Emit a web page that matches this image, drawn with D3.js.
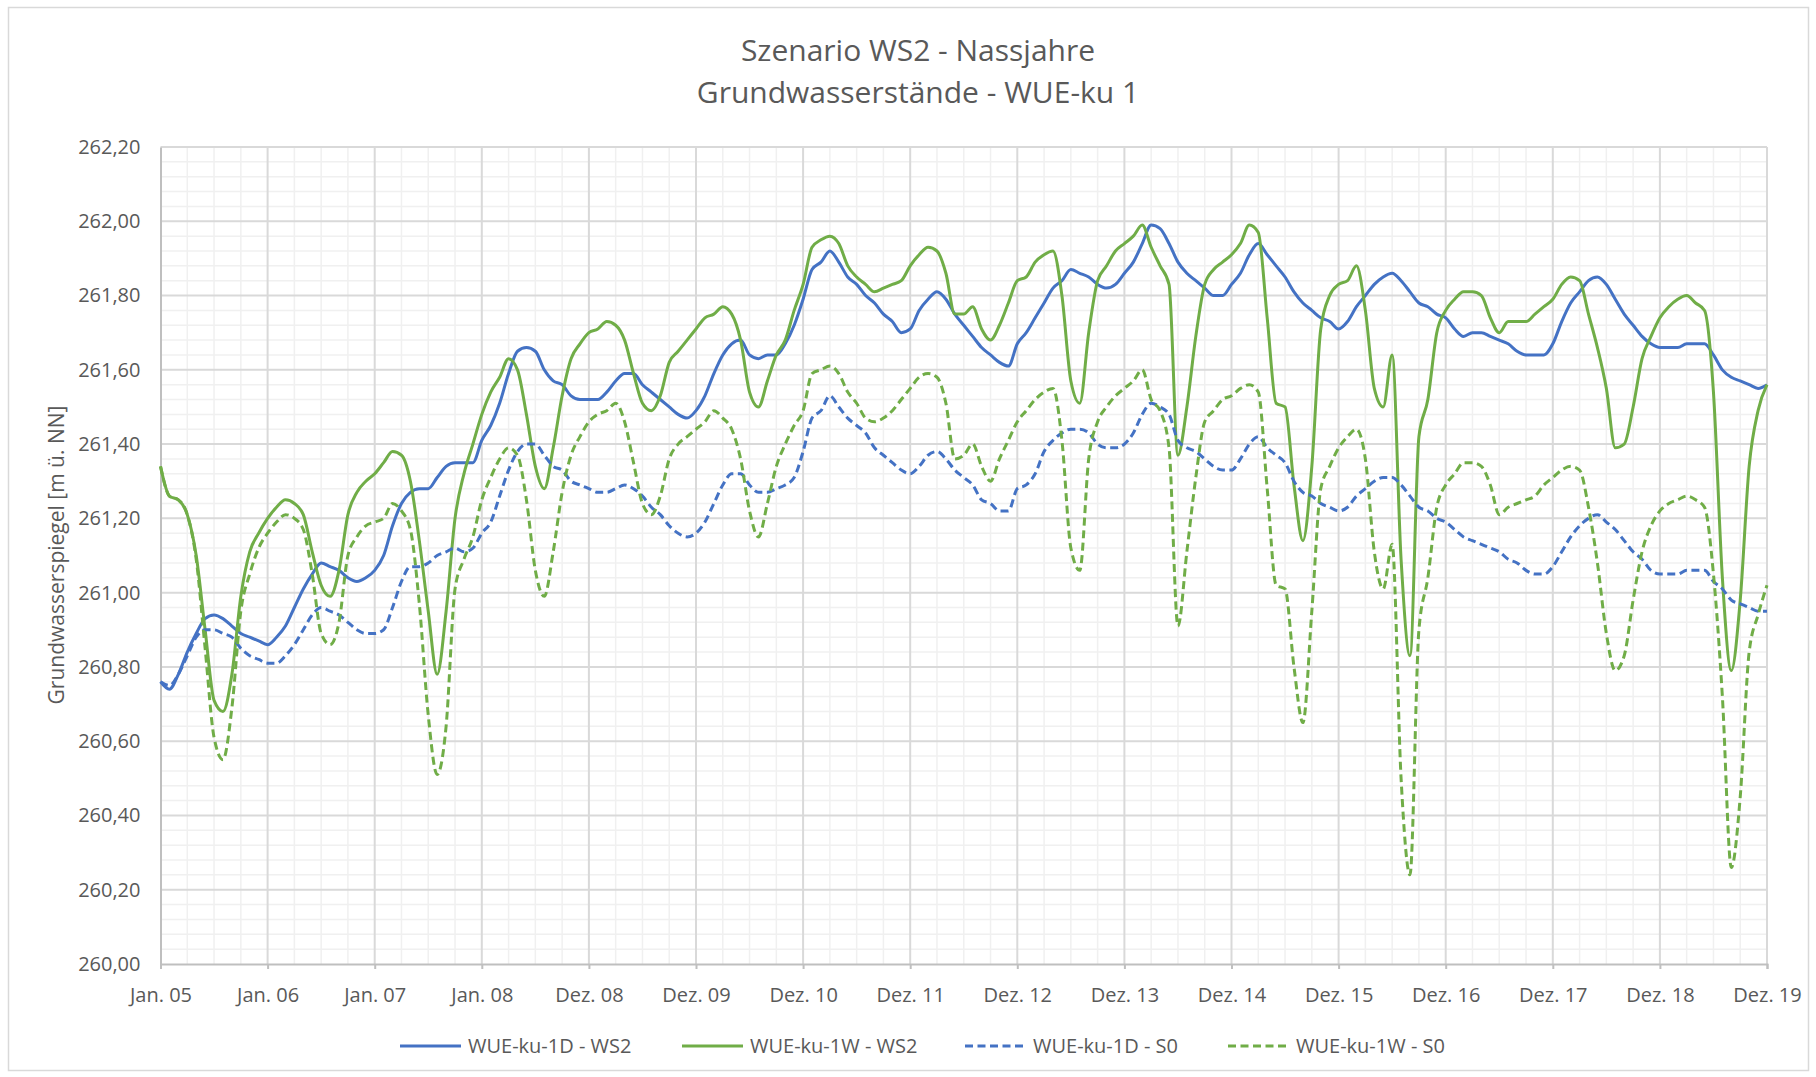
<!DOCTYPE html>
<html>
<head>
<meta charset="utf-8">
<script src="https://d3js.org/d3.v7.min.js"></script>
<title>Szenario WS2 - Nassjahre</title>
<style>
  body { margin: 0; background: #fff; }
  svg text { font-family: "Open Sans", "Liberation Sans", sans-serif; fill: #595959; }
</style>
</head>
<body>
<div id="chart"></div>
<script type="text/javascript">

// category labels on the x axis (one per year gridline)
var xLabels = ["Jan. 05", "Jan. 06", "Jan. 07", "Jan. 08", "Dez. 08", "Dez. 09", "Dez. 10", "Dez. 11",
               "Dez. 12", "Dez. 13", "Dez. 14", "Dez. 15", "Dez. 16", "Dez. 17", "Dez. 18", "Dez. 19"];

var yTicks = [260.0, 260.2, 260.4, 260.6, 260.8, 261.0, 261.2, 261.4, 261.6, 261.8, 262.0, 262.2];

var seriesNames = ["WUE-ku-1D - WS2", "WUE-ku-1W - WS2", "WUE-ku-1D - S0", "WUE-ku-1W - S0"];

// monthly readings, one row per year (12 values), plus the last month
var ku1D_WS2 = [
  260.76, 260.74, 260.78, 260.84, 260.89, 260.93, 260.94, 260.93, 260.91, 260.89, 260.88, 260.87,
  260.86, 260.88, 260.91, 260.96, 261.01, 261.05, 261.08, 261.07, 261.06, 261.04, 261.03, 261.04,
  261.06, 261.10, 261.18, 261.24, 261.27, 261.28, 261.28, 261.31, 261.34, 261.35, 261.35, 261.35,
  261.41, 261.45, 261.51, 261.59, 261.65, 261.66, 261.65, 261.60, 261.57, 261.56, 261.53, 261.52,
  261.52, 261.52, 261.54, 261.57, 261.59, 261.59, 261.56, 261.54, 261.52, 261.50, 261.48, 261.47,
  261.49, 261.53, 261.59, 261.64, 261.67, 261.68, 261.64, 261.63, 261.64, 261.64, 261.67, 261.72,
  261.79, 261.87, 261.89, 261.92, 261.89, 261.85, 261.83, 261.80, 261.78, 261.75, 261.73, 261.70,
  261.71, 261.76, 261.79, 261.81, 261.79, 261.75, 261.72, 261.69, 261.66, 261.64, 261.62, 261.61,
  261.67, 261.70, 261.74, 261.78, 261.82, 261.84, 261.87, 261.86, 261.85, 261.83, 261.82, 261.83,
  261.86, 261.89, 261.94, 261.99, 261.98, 261.94, 261.89, 261.86, 261.84, 261.82, 261.80, 261.80,
  261.83, 261.86, 261.91, 261.94, 261.91, 261.88, 261.85, 261.81, 261.78, 261.76, 261.74, 261.73,
  261.71, 261.73, 261.77, 261.80, 261.83, 261.85, 261.86, 261.84, 261.81, 261.78, 261.77, 261.75,
  261.74, 261.71, 261.69, 261.70, 261.70, 261.69, 261.68, 261.67, 261.65, 261.64, 261.64, 261.64,
  261.67, 261.73, 261.78, 261.81, 261.84, 261.85, 261.83, 261.79, 261.75, 261.72, 261.69, 261.67,
  261.66, 261.66, 261.66, 261.67, 261.67, 261.67, 261.64, 261.60, 261.58, 261.57, 261.56, 261.55,
  261.56
];

var ku1W_WS2 = [
  261.34, 261.26, 261.25, 261.21, 261.10, 260.90, 260.71, 260.68, 260.78, 260.99, 261.11, 261.16,
  261.20, 261.23, 261.25, 261.24, 261.21, 261.11, 261.02, 260.99, 261.06, 261.21, 261.27, 261.30,
  261.32, 261.35, 261.38, 261.37, 261.30, 261.14, 260.95, 260.78, 260.95, 261.20, 261.32, 261.40,
  261.48, 261.54, 261.58, 261.63, 261.60, 261.48, 261.34, 261.28, 261.39, 261.53, 261.63, 261.67,
  261.70, 261.71, 261.73, 261.72, 261.68, 261.59, 261.51, 261.49, 261.53, 261.62, 261.65, 261.68,
  261.71, 261.74, 261.75, 261.77, 261.75, 261.68, 261.54, 261.50, 261.57, 261.64, 261.68, 261.76,
  261.83, 261.93, 261.95, 261.96, 261.94, 261.88, 261.85, 261.83, 261.81, 261.82, 261.83, 261.84,
  261.88, 261.91, 261.93, 261.92, 261.86, 261.75, 261.75, 261.77, 261.71, 261.68, 261.72, 261.78,
  261.84, 261.85, 261.89, 261.91, 261.92, 261.80, 261.57, 261.51, 261.70, 261.84, 261.88, 261.92,
  261.94, 261.96, 261.99, 261.93, 261.88, 261.83, 261.37, 261.50, 261.69, 261.83, 261.87, 261.89,
  261.91, 261.94, 261.99, 261.97, 261.74, 261.51, 261.50, 261.29, 261.14, 261.34, 261.71, 261.80,
  261.83, 261.84, 261.88, 261.76, 261.55, 261.50, 261.64, 261.09, 260.83, 261.42, 261.52, 261.70,
  261.76, 261.79, 261.81, 261.81, 261.80, 261.74, 261.70, 261.73, 261.73, 261.73, 261.75, 261.77,
  261.79, 261.83, 261.85, 261.84, 261.75, 261.66, 261.55, 261.39, 261.40, 261.50, 261.63, 261.69,
  261.74, 261.77, 261.79, 261.80, 261.78, 261.76, 261.54, 261.04, 260.79, 260.98, 261.34, 261.49,
  261.56
];

var ku1D_S0 = [
  260.76, 260.75, 260.78, 260.83, 260.88, 260.90, 260.90, 260.89, 260.88, 260.85, 260.83, 260.82,
  260.81, 260.81, 260.83, 260.86, 260.90, 260.94, 260.96, 260.95, 260.94, 260.92, 260.90, 260.89,
  260.89, 260.90, 260.96, 261.03, 261.07, 261.07, 261.08, 261.10, 261.11, 261.12, 261.11, 261.12,
  261.16, 261.19, 261.26, 261.33, 261.38, 261.40, 261.40, 261.37, 261.34, 261.33, 261.30, 261.29,
  261.28, 261.27, 261.27, 261.28, 261.29, 261.28, 261.26, 261.23, 261.21, 261.18, 261.16, 261.15,
  261.16, 261.19, 261.24, 261.29, 261.32, 261.32, 261.29, 261.27, 261.27, 261.28, 261.29, 261.31,
  261.38, 261.47, 261.49, 261.53, 261.50, 261.47, 261.45, 261.43, 261.39, 261.37, 261.35, 261.33,
  261.32, 261.34, 261.37, 261.38, 261.36, 261.33, 261.31, 261.29, 261.25, 261.24, 261.22, 261.22,
  261.28, 261.29, 261.32, 261.38, 261.41, 261.43, 261.44, 261.44, 261.43, 261.40, 261.39, 261.39,
  261.40, 261.43, 261.48, 261.51, 261.50, 261.48, 261.41, 261.39, 261.38, 261.36, 261.34, 261.33,
  261.33, 261.36, 261.40, 261.42, 261.39, 261.37, 261.35, 261.30, 261.27, 261.26, 261.24, 261.23,
  261.22, 261.23, 261.26, 261.28, 261.30, 261.31, 261.31, 261.29, 261.26, 261.23, 261.22, 261.20,
  261.19, 261.17, 261.15, 261.14, 261.13, 261.12, 261.11, 261.09, 261.08, 261.06, 261.05, 261.05,
  261.07, 261.11, 261.15, 261.18, 261.20, 261.21, 261.19, 261.17, 261.14, 261.11, 261.09, 261.06,
  261.05, 261.05, 261.05, 261.06, 261.06, 261.06, 261.03, 261.01, 260.98, 260.97, 260.96, 260.95,
  260.95
];

var ku1W_S0 = [
  261.34, 261.26, 261.25, 261.21, 261.09, 260.85, 260.61, 260.55, 260.69, 260.95, 261.05, 261.12,
  261.16, 261.19, 261.21, 261.20, 261.17, 261.05, 260.89, 260.86, 260.92, 261.10, 261.15, 261.18,
  261.19, 261.20, 261.24, 261.22, 261.17, 260.97, 260.67, 260.51, 260.64, 261.01, 261.09, 261.15,
  261.25, 261.31, 261.36, 261.39, 261.37, 261.25, 261.06, 260.99, 261.11, 261.27, 261.37, 261.42,
  261.46, 261.48, 261.49, 261.51, 261.46, 261.35, 261.24, 261.21, 261.26, 261.36, 261.40, 261.42,
  261.44, 261.46, 261.49, 261.47, 261.44, 261.36, 261.22, 261.15, 261.24, 261.34, 261.40, 261.45,
  261.49, 261.59, 261.60, 261.61, 261.59, 261.54, 261.51, 261.47, 261.46, 261.47, 261.49, 261.52,
  261.55, 261.58, 261.59, 261.58, 261.51, 261.36, 261.37, 261.40, 261.34, 261.30, 261.36, 261.41,
  261.46, 261.49, 261.52, 261.54, 261.55, 261.41, 261.12, 261.06, 261.36, 261.46, 261.50, 261.53,
  261.55, 261.57, 261.60, 261.52, 261.49, 261.39, 260.91, 261.11, 261.31, 261.46, 261.49, 261.52,
  261.53, 261.55, 261.56, 261.54, 261.28, 261.02, 261.01, 260.80, 260.65, 260.95, 261.28, 261.34,
  261.39, 261.42, 261.44, 261.36, 261.11, 261.01, 261.13, 260.50, 260.24, 260.90, 261.04, 261.23,
  261.29, 261.32, 261.35, 261.35, 261.34, 261.29, 261.21, 261.23, 261.24, 261.25, 261.26, 261.29,
  261.31, 261.33, 261.34, 261.33, 261.23, 261.08, 260.89, 260.79, 260.83, 260.98, 261.11, 261.18,
  261.22, 261.24, 261.25, 261.26, 261.25, 261.23, 261.05, 260.72, 260.26, 260.45, 260.84, 260.94,
  261.02
];

var seriesValues = [ku1D_WS2, ku1W_WS2, ku1D_S0, ku1W_S0];
var seriesColors = ["#4472c4", "#70ad47", "#4472c4", "#70ad47"];
var seriesDash = [null, null, "8,4.5", "8,4.5"];

var width = 1816, height = 1077;
var plot = {left: 160.5, right: 1767, top: 147, bottom: 964};

var svg = d3.select("#chart").append("svg")
    .attr("width", width)
    .attr("height", height);

// chart border
svg.append("rect")
    .attr("x", 8.5).attr("y", 7.5)
    .attr("width", 1800).attr("height", 1063)
    .attr("fill", "#fff")
    .attr("stroke", "#d9d9d9")
    .attr("stroke-width", 1.5);

var x = d3.scaleLinear().domain([0, xLabels.length - 1]).range([plot.left, plot.right]);
var y = d3.scaleLinear().domain([yTicks[0], yTicks[yTicks.length - 1]]).range([plot.bottom, plot.top]);

// gridlines: minor (quarter years / 0.04 m) then major
var minorX = d3.range(0, 61).map(function (q) { return q / 4; }).filter(function (t, q) { return q % 4 !== 0; });
var minorY = d3.range(0, 56).filter(function (k) { return k % 5 !== 0; }).map(function (k) { return 260 + k * 0.04; });

var grid = svg.append("g");
grid.selectAll(".minx").data(minorX).enter().append("line")
    .attr("x1", function (d) { return x(d); }).attr("x2", function (d) { return x(d); })
    .attr("y1", plot.top).attr("y2", plot.bottom)
    .attr("stroke", "#f0f0f0").attr("stroke-width", 1.5);
grid.selectAll(".miny").data(minorY).enter().append("line")
    .attr("x1", plot.left).attr("x2", plot.right)
    .attr("y1", function (d) { return y(d); }).attr("y2", function (d) { return y(d); })
    .attr("stroke", "#f0f0f0").attr("stroke-width", 1.5);
grid.selectAll(".majx").data(d3.range(1, xLabels.length)).enter().append("line")
    .attr("x1", function (d) { return x(d); }).attr("x2", function (d) { return x(d); })
    .attr("y1", plot.top).attr("y2", plot.bottom)
    .attr("stroke", "#d9d9d9").attr("stroke-width", 2);
grid.selectAll(".majy").data(yTicks.slice(1)).enter().append("line")
    .attr("x1", plot.left).attr("x2", plot.right)
    .attr("y1", function (d) { return y(d); }).attr("y2", function (d) { return y(d); })
    .attr("stroke", "#d9d9d9").attr("stroke-width", 2);

// axes
var de = d3.formatLocale({decimal: ",", thousands: ".", grouping: [3], currency: ["", " €"]});

var yAxis = svg.append("g")
    .attr("transform", "translate(" + plot.left + ",0)")
    .call(d3.axisLeft(y).tickValues(yTicks).tickSize(0).tickPadding(20).tickFormat(de.format(".2f")));
yAxis.select(".domain").attr("stroke", "#bfbfbf").attr("stroke-width", 2);

var xAxis = svg.append("g")
    .attr("transform", "translate(0," + plot.bottom + ")")
    .call(d3.axisBottom(x).tickValues(d3.range(xLabels.length)).tickSize(5).tickPadding(19)
      .tickFormat(function (i) { return xLabels[i]; }));
xAxis.select(".domain").attr("stroke", "#bfbfbf").attr("stroke-width", 2);
xAxis.selectAll(".tick line").attr("stroke", "#bfbfbf").attr("stroke-width", 2);

svg.selectAll(".tick text")
    .style("font-size", "20px")
    .style("font-family", "'Open Sans', sans-serif")
    .attr("fill", "#595959");

// series
var line = d3.line()
    .x(function (d, i) { return x(i / 12); })
    .y(function (d) { return y(d); })
    .curve(d3.curveMonotoneX);

svg.append("g").selectAll("path")
    .data(seriesValues)
    .enter().append("path")
      .attr("d", line)
      .attr("fill", "none")
      .attr("stroke", function (d, i) { return seriesColors[i]; })
      .attr("stroke-width", 3)
      .attr("stroke-dasharray", function (d, i) { return seriesDash[i]; })
      .attr("stroke-linejoin", "round");

// titles
svg.append("text")
    .attr("x", 918).attr("y", 61)
    .attr("text-anchor", "middle")
    .style("font-size", "30px")
    .text("Szenario WS2 - Nassjahre");
svg.append("text")
    .attr("x", 918).attr("y", 103)
    .attr("text-anchor", "middle")
    .style("font-size", "30px")
    .text("Grundwasserstände - WUE-ku 1");

svg.append("text")
    .attr("transform", "translate(57,555) rotate(-90)")
    .attr("text-anchor", "middle")
    .attr("dy", "0.35em")
    .style("font-size", "21px")
    .text("Grundwasserspiegel [m ü. NN]");

// legend
var legendX = [400, 682, 965, 1228];
var legend = svg.append("g").selectAll("g")
    .data(seriesNames)
    .enter().append("g")
      .attr("transform", function (d, i) { return "translate(" + legendX[i] + ",1046)"; });
legend.append("line")
    .attr("x1", 0).attr("x2", 61)
    .attr("stroke", function (d, i) { return seriesColors[i]; })
    .attr("stroke-width", 3)
    .attr("stroke-dasharray", function (d, i) { return seriesDash[i]; });
legend.append("text")
    .attr("x", 68)
    .attr("dy", "0.35em")
    .style("font-size", "20px")
    .text(function (d) { return d; });

</script>
</body>
</html>
